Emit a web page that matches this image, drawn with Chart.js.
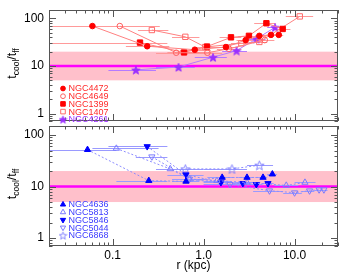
<!DOCTYPE html>
<html>
<head>
<meta charset="utf-8">
<script src="https://cdn.jsdelivr.net/npm/chart.js@4.4.0/dist/chart.umd.min.js"></script>
<style>
  html, body { margin: 0; padding: 0; background: #fff; }
  #wrap { position: relative; width: 349px; height: 278px; overflow: hidden; }
  .panel { position: absolute; left: 0; }
  #topChart { top: 0; }
  #botChart { top: 126px; }
</style>
</head>
<body>
<div id="wrap">
  <canvas id="topChart" class="panel" width="349" height="126"></canvas>
  <canvas id="botChart" class="panel" width="349" height="161"></canvas>
</div>
<script>
// axis ranges and tick labels
const xMin = 0.02, xMax = 30;
const yMin = 0.7, yMax = 150;
const xTickValues = [0.1, 1, 10];
const xTickLabels = ['0.1', '1.0', '10.0'];
const yTickValues = [1, 10, 100];
const yTickLabels = ['1', '10', '100'];
const bandLow = 5, bandHigh = 20, refLine = 10;

// top panel: r (kpc), tcool/tff, radial bin edges
const r4472 = [0.06, 0.24, 0.80, 1.76, 2.9, 4.1, 5.5, 6.7];
const t4472 = [69, 26, 22, 25, 35, 43, 45, 45];
const lo4472 = [0.015, 0.14, 0.55, 1.3, 2.3, 3.4, 4.8, 6.0];
const hi4472 = [0.24, 0.42, 1.2, 2.4, 3.6, 4.9, 6.2, 7.5];

const r4649 = [0.12, 0.50, 1.1, 1.9, 4.7];
const t4649 = [69, 19, 19, 23, 35];
const lo4649 = [0.03, 0.30, 0.7, 1.4, 3.6];
const hi4649 = [0.33, 0.80, 1.6, 2.6, 6.0];

const r1399 = [0.20, 0.61, 1.09, 2.0, 3.15, 4.9, 7.4];
const t1399 = [31, 19.3, 25.6, 40, 43, 79, 60];
const lo1399 = [0.02, 0.40, 0.80, 1.5, 2.4, 3.6, 6.0];
const hi1399 = [0.40, 0.90, 1.6, 2.6, 4.2, 6.2, 9.0];

const r1407 = [0.27, 0.63, 1.04, 2.6, 4.1, 11.4];
const t1407 = [57, 41, 25, 30, 32, 110];
const lo1407 = [0.19, 0.45, 0.80, 2.0, 3.3, 8.0];
const hi1407 = [0.41, 0.90, 1.3, 3.3, 5.0, 16];

const r4261 = [0.18, 0.53, 1.27, 2.3, 3.8, 6.1];
const t4261 = [8.3, 9.5, 15.3, 21, 37, 65];
const lo4261 = [0.09, 0.30, 0.8, 1.6, 3.0, 5.0];
const hi4261 = [0.30, 0.80, 1.8, 3.0, 4.8, 7.5];

// bottom panel
const r4636 = [0.053, 0.25, 0.64, 1.6, 3.0, 4.5, 5.7];
const t4636 = [52, 13, 12.6, 15, 15, 15, 17.4];
const lo4636 = [0.01, 0.11, 0.45, 1.1, 2.4, 3.7, 5.0];
const hi4636 = [0.11, 0.40, 0.9, 2.2, 3.6, 5.0, 6.4];

const r5813 = [0.11, 0.43, 0.70, 1.4, 3.0, 8.1, 13];
const t5813 = [55, 22, 14, 13, 12, 10.5, 12];
const lo5813 = [0.06, 0.30, 0.50, 1.0, 2.2, 6.0, 10];
const hi5813 = [0.32, 0.60, 1.0, 2.0, 4.2, 11, 17];

const r5846 = [0.24, 0.64, 1.55, 2.7, 3.8, 5.1];
const t5846 = [60, 17, 12, 11.5, 11, 11.5];
const lo5846 = [0.09, 0.40, 1.0, 2.1, 3.2, 4.4];
const hi5846 = [0.40, 1.0, 2.1, 3.2, 4.4, 5.9];

const r5044 = [0.27, 0.70, 1.95, 5.3, 10, 14.6, 18.6, 21];
const t5044 = [38, 14, 11, 8.3, 7.6, 8.3, 8.7, 8.7];
const lo5044 = [0.18, 0.45, 1.0, 3.5, 7.5, 12, 16.5, 19.5];
const hi5044 = [0.40, 1.0, 3.0, 7.5, 12, 16.5, 19.5, 23];

const r6868 = [0.63, 2.05, 4.1];
const t6868 = [22, 22, 26];
const lo6868 = [0.30, 1.0, 3.0];
const hi6868 = [1.0, 3.0, 5.8];

const FONT = '"Liberation Sans", Arial, Helvetica, sans-serif';

function makeStar(size, fill, stroke) {
    const c = document.createElement('canvas');
    c.width = size; c.height = size;
    const g = c.getContext('2d');
    const cx = size / 2, cy = size / 2 + 0.6, R = size / 2 - 0.6, ri = R * 0.42;
    g.beginPath();
    for (let i = 0; i < 10; i++) {
        const a = -Math.PI / 2 + i * Math.PI / 5;
        const rad = i % 2 ? ri : R;
        g.lineTo(cx + rad * Math.cos(a), cy + rad * Math.sin(a));
    }
    g.closePath();
    if (fill) { g.fillStyle = fill; g.fill(); }
    g.strokeStyle = stroke; g.lineWidth = 0.9; g.stroke();
    return c;
}

const NONE = 'rgba(0,0,0,0)';
const redLine = '#ff8080', redBar = '#ff9a9a';
const blueLine = '#8c8cff', blueBar = '#9a9aff';

function series(label, r, t, lo, hi, st) {
    return {
        label: label,
        data: r.map((x, i) => ({ x: x, y: t[i] })),
        xLo: lo, xHi: hi, barColor: st.bar, textColor: st.text,
        showLine: true, borderColor: st.line, borderWidth: 1, borderDash: st.dash || [],
        pointStyle: st.shape, pointRadius: st.size, rotation: st.rot || 0,
        pointBackgroundColor: st.fill, pointBorderColor: st.edge, pointBorderWidth: 1,
        legendShape: st.legendShape || st.shape, legendSize: st.legendSize || st.size,
    };
}

const topSets = [
    series('NGC4472', r4472, t4472, lo4472, hi4472, { shape: 'circle', size: 2.8, fill: '#ff0000', edge: '#ff0000', line: redLine, bar: redBar, text: '#ff2a2a' }),
    series('NGC4649', r4649, t4649, lo4649, hi4649, { shape: 'circle', size: 2.8, fill: NONE, edge: '#ff6060', line: redLine, bar: redBar, text: '#ff2a2a' }),
    series('NGC1399', r1399, t1399, lo1399, hi1399, { shape: 'rect', size: 3.8, fill: '#ff0000', edge: '#ff0000', line: redLine, bar: redBar, text: '#ff2a2a' }),
    series('NGC1407', r1407, t1407, lo1407, hi1407, { shape: 'rect', size: 3.8, fill: NONE, edge: '#ff6a6a', line: redLine, bar: redBar, text: '#ff2a2a' }),
    series('NGC4261', r4261, t4261, lo4261, hi4261, { shape: makeStar(10, '#9b30ff', '#9b30ff'), legendShape: makeStar(9, '#9b30ff', '#9b30ff'), size: 4, fill: '#9b30ff', edge: '#9b30ff', line: '#b57aff', bar: '#b57aff', text: '#9b30ff' }),
];

const botSets = [
    series('NGC4636', r4636, t4636, lo4636, hi4636, { shape: 'triangle', size: 3.6, fill: '#0000ff', edge: '#0000ff', line: blueLine, bar: blueBar, dash: [2, 2], text: '#3a3aff' }),
    series('NGC5813', r5813, t5813, lo5813, hi5813, { shape: 'triangle', size: 3.6, fill: NONE, edge: '#7a7aff', line: blueLine, bar: blueBar, dash: [2, 2], text: '#3a3aff' }),
    series('NGC5846', r5846, t5846, lo5846, hi5846, { shape: 'triangle', size: 3.6, rot: 180, fill: '#0000ff', edge: '#0000ff', line: blueLine, bar: blueBar, dash: [2, 2], text: '#3a3aff' }),
    series('NGC5044', r5044, t5044, lo5044, hi5044, { shape: 'triangle', size: 3.6, rot: 180, fill: NONE, edge: '#7a7aff', line: blueLine, bar: blueBar, dash: [2, 2], text: '#3a3aff' }),
    series('NGC6868', r6868, t6868, lo6868, hi6868, { shape: makeStar(11, null, '#7a7aff'), legendShape: makeStar(9, null, '#7a7aff'), size: 4, fill: NONE, edge: '#7a7aff', line: blueLine, bar: blueBar, dash: [2, 2], text: '#3a3aff' }),
];

function isDecade(v) {
    const l = Math.log10(v);
    return Math.abs(l - Math.round(l)) < 1e-6;
}
function tickText(values, labels, v) {
    const i = values.findIndex(t => Math.abs(t - v) / t < 1e-6);
    return i >= 0 ? labels[i] : '';
}

// pink band, reference line and horizontal bin bars under the data
const backPlugin = {
    id: 'back',
    beforeDatasetsDraw(chart) {
        const { ctx, chartArea: a, scales: { x, y } } = chart;
        ctx.save();
        ctx.beginPath();
        ctx.rect(a.left, a.top, a.right - a.left, a.bottom - a.top);
        ctx.clip();
        const yHi = y.getPixelForValue(bandHigh), yLo = y.getPixelForValue(bandLow);
        ctx.fillStyle = '#ffc0cb';
        ctx.fillRect(a.left, yHi, a.right - a.left, yLo - yHi);
        ctx.strokeStyle = '#ff00ff';
        ctx.lineWidth = 2.5;
        const y10 = y.getPixelForValue(refLine);
        ctx.beginPath(); ctx.moveTo(a.left, y10); ctx.lineTo(a.right, y10); ctx.stroke();
        ctx.lineWidth = 1;
        chart.data.datasets.forEach(ds => {
            ctx.strokeStyle = ds.barColor;
            ds.data.forEach((p, j) => {
                const py = Math.round(y.getPixelForValue(p.y)) + 0.5;
                ctx.beginPath();
                ctx.moveTo(x.getPixelForValue(ds.xLo[j]), py);
                ctx.lineTo(x.getPixelForValue(ds.xHi[j]), py);
                ctx.stroke();
            });
        });
        ctx.restore();
    }
};

function decadeTicks(scale, min, max, cb) {
    for (let d = Math.floor(Math.log10(min)); d <= Math.ceil(Math.log10(max)); d++) {
        for (let m = 1; m <= 9; m++) {
            const v = m * Math.pow(10, d);
            if (v < min * 0.9999 || v > max * 1.0001) continue;
            cb(scale.getPixelForValue(v), m === 1);
        }
    }
}

// frame with inward ticks on all four sides, legend and y title
const framePlugin = {
    id: 'frame',
    afterDraw(chart) {
        const { ctx, chartArea: a, scales: { x, y } } = chart;
        ctx.save();
        ctx.strokeStyle = '#555';
        ctx.lineWidth = 1;
        ctx.strokeRect(a.left + 0.5, a.top + 0.5, a.right - a.left - 1, a.bottom - a.top - 1);
        ctx.beginPath();
        decadeTicks(x, xMin, xMax, (px, major) => {
            const L = major ? 7 : 3.5;
            px = Math.round(px) + 0.5;
            ctx.moveTo(px, a.bottom); ctx.lineTo(px, a.bottom - L);
            ctx.moveTo(px, a.top); ctx.lineTo(px, a.top + L);
        });
        decadeTicks(y, yMin, yMax, (py, major) => {
            const L = major ? 7 : 3.5;
            py = Math.round(py) + 0.5;
            ctx.moveTo(a.left, py); ctx.lineTo(a.left + L, py);
            ctx.moveTo(a.right, py); ctx.lineTo(a.right - L, py);
        });
        ctx.stroke();

        // legend
        ctx.font = '9px ' + FONT;
        ctx.textBaseline = 'middle';
        chart.data.datasets.forEach((ds, i) => {
            const ly = a.top + 78.5 + i * 7.7;
            ctx.save();
            ctx.fillStyle = ds.pointBackgroundColor;
            ctx.strokeStyle = ds.pointBorderColor;
            ctx.lineWidth = 1;
            Chart.helpers.drawPoint(ctx, {
                pointStyle: ds.legendShape, radius: typeof ds.legendShape === 'string' ? ds.legendSize * 0.85 : 4,
                rotation: ds.rotation, borderWidth: 1
            }, 63, ly);
            ctx.restore();
            ctx.fillStyle = ds.textColor;
            ctx.fillText(ds.label, 68.5, ly + 0.5);
        });

        // y title t_cool / t_ff
        const parts = [['t', 12.5, 0], ['cool', 8.5, 2.5], ['/t', 12.5, 0], ['ff', 8.5, 2.5]];
        ctx.save();
        ctx.fillStyle = '#000';
        ctx.textBaseline = 'alphabetic';
        ctx.translate(16, (a.top + a.bottom) / 2 - 2);
        ctx.rotate(-Math.PI / 2);
        let total = 0;
        parts.forEach(p => { ctx.font = p[1] + 'px ' + FONT; total += ctx.measureText(p[0]).width; });
        let cx = -total / 2;
        parts.forEach(p => {
            ctx.font = p[1] + 'px ' + FONT;
            ctx.fillText(p[0], cx, p[2]);
            cx += ctx.measureText(p[0]).width;
        });
        ctx.restore();
        ctx.restore();
    }
};

function makeChart(canvas, datasets, isBottom) {
    return new Chart(canvas, {
        type: 'scatter',
        data: { datasets: datasets },
        options: {
            responsive: false,
            animation: false,
            events: [],
            layout: { padding: { left: 0, right: 11, top: isBottom ? 0 : 10, bottom: isBottom ? 9 : 0 } },
            plugins: { legend: { display: false }, tooltip: { enabled: false } },
            scales: {
                x: {
                    type: 'logarithmic', min: xMin, max: xMax,
                    display: isBottom,
                    grid: { display: false, drawTicks: false },
                    border: { display: false },
                    afterFit: (s) => {
                        s.height = isBottom ? 27 : 0;
                        s.paddingLeft = 0; s.paddingRight = 0;
                    },
                    ticks: {
                        autoSkip: false, maxRotation: 0, padding: 2, color: '#000',
                        font: { family: FONT, size: 12 },
                        callback: (v) => isDecade(v) ? tickText(xTickValues, xTickLabels, v) : ''
                    },
                    title: { display: true, text: 'r (kpc)', color: '#000', padding: 0, font: { family: FONT, size: 12 } }
                },
                y: {
                    type: 'logarithmic', min: yMin, max: yMax,
                    grid: { display: false, drawTicks: false },
                    border: { display: false },
                    afterFit: (s) => {
                        s.width = 49;
                        s.paddingTop = 0; s.paddingBottom = 0;
                    },
                    ticks: {
                        autoSkip: false, padding: 5, color: '#000',
                        font: { family: FONT, size: 12 },
                        callback: (v) => isDecade(v) ? tickText(yTickValues, yTickLabels, v) : ''
                    }
                }
            }
        },
        plugins: [backPlugin, framePlugin]
    });
}

const topCanvas = document.getElementById('topChart');
const botCanvas = document.getElementById('botChart');
const topChart = makeChart(topCanvas, topSets, false);
const botChart = makeChart(botCanvas, botSets, true);
// line the plot frames up with the panel edges (10..126 and 126..242)
topCanvas.style.top = (10 - topChart.chartArea.top) + 'px';
botCanvas.style.top = (126 - botChart.chartArea.top) + 'px';
</script>
</body>
</html>
